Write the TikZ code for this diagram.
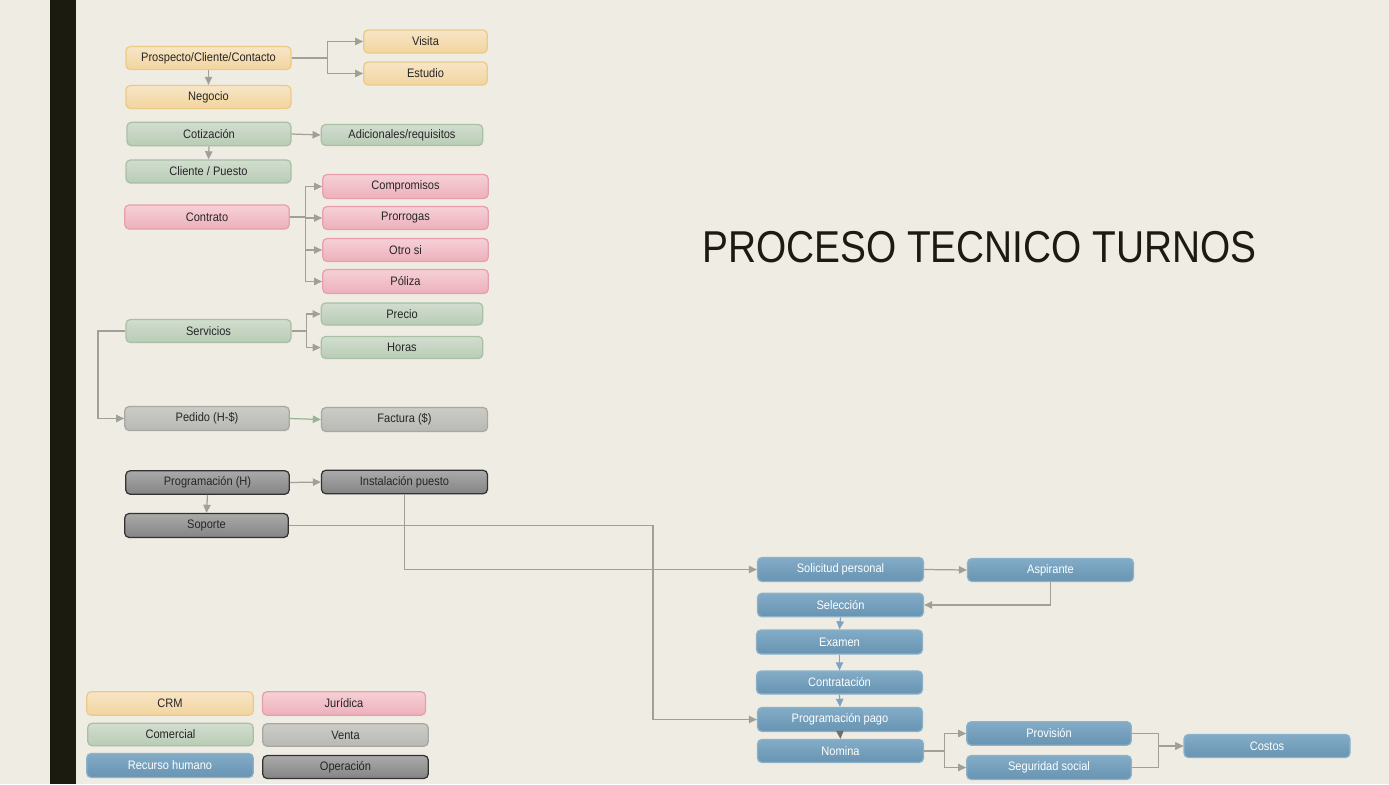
\documentclass[tikz,border=0pt]{standalone}
\usepackage{fontspec}
\setmainfont{Liberation Sans}[FakeStretch=0.9]
\newfontfamily\titlefont{Liberation Sans}[FakeStretch=0.87]
\usepackage{tikz}
\usetikzlibrary{arrows.meta}
\usetikzlibrary{positioning}

\definecolor{fondo}{RGB}{239,236,228}
\definecolor{barra}{RGB}{27,27,16}
\definecolor{linea}{RGB}{160,160,152}
\definecolor{lineaazul}{RGB}{125,165,195}
\definecolor{lineaverde}{RGB}{150,180,150}
\definecolor{crmarriba}{RGB}{247,229,198}
\definecolor{crmabajo}{RGB}{242,213,158}
\definecolor{crmborde}{RGB}{236,202,134}
\definecolor{comarriba}{RGB}{210,221,207}
\definecolor{comabajo}{RGB}{184,204,181}
\definecolor{comborde}{RGB}{168,192,164}
\definecolor{jurarriba}{RGB}{246,208,214}
\definecolor{jurabajo}{RGB}{236,176,188}
\definecolor{jurborde}{RGB}{232,158,172}
\definecolor{venarriba}{RGB}{204,204,199}
\definecolor{venabajo}{RGB}{184,184,180}
\definecolor{venborde}{RGB}{168,168,163}
\definecolor{operarriba}{RGB}{170,170,170}
\definecolor{operabajo}{RGB}{132,132,132}
\definecolor{operborde}{RGB}{50,50,50}
\definecolor{rhumarriba}{RGB}{130,171,198}
\definecolor{rhumabajo}{RGB}{104,148,178}
\definecolor{rhumborde}{RGB}{140,178,202}

\begin{document}
\begin{tikzpicture}[
  > = {Triangle[length=4.6pt,width=4.2pt]},
  caja/.style = {rounded corners=2.5pt, minimum width=3.3cm, minimum height=0.46cm, inner sep=0pt, line width=0.7pt, font=\fontsize{7}{8}\selectfont, text=black!85},
  crm/.style = {caja, draw=crmborde, top color=crmarriba, bottom color=crmabajo},
  com/.style = {caja, draw=comborde, top color=comarriba, bottom color=comabajo},
  jur/.style = {caja, draw=jurborde, top color=jurarriba, bottom color=jurabajo},
  ven/.style = {caja, draw=venborde, top color=venarriba, bottom color=venabajo},
  oper/.style = {caja, draw=operborde, top color=operarriba, bottom color=operabajo},
  rhum/.style = {caja, draw=rhumborde, top color=rhumarriba, bottom color=rhumabajo, text=white},
  flecha/.style = {->, draw=linea, line width=0.7pt}
  ]
	% fondo y barra
	\fill[fondo] (0,0) rectangle (27.78,-15.68);
	\useasboundingbox (0,0) rectangle (27.78,-15.68);
	\fill[barra] (1.0,0) rectangle (1.52,-15.68);

	\node[font=\titlefont\fontsize{25.4}{28}\selectfont, text=barra, anchor=base] (titulo) at (19.59,-5.24) {PROCESO TECNICO TURNOS};

	% CRM
	\node[crm] (prospecto) at (4.17,-1.16) {Prospecto/Cliente/Contacto};
	\node[crm] (negocio) at (4.17,-1.94) {Negocio};
	\node[crm, minimum width=2.47cm] (visita) at (8.51,-0.83) {Visita};
	\node[crm, minimum width=2.47cm] (estudio) at (8.51,-1.47) {Estudio};

	% Comercial
	\node[com, minimum width=3.28cm, minimum height=0.47cm] (cotizacion) at (4.18,-2.68) {Cotización};
	\node[com, minimum width=3.23cm, minimum height=0.42cm] (adicionales) at (8.04,-2.70) {Adicionales/requisitos};
	\node[com] (cliente) at (4.17,-3.43) {Cliente / Puesto};

	% Juridica
	\node[jur, minimum width=3.29cm, minimum height=0.48cm] (contrato) at (4.14,-4.34) {Contrato};
	\node[jur, minimum width=3.31cm, minimum height=0.48cm] (compromisos) at (8.11,-3.73) {Compromisos};
	\node[jur, minimum width=3.31cm] (prorrogas) at (8.11,-4.36) {Prorrogas};
	\node[jur, minimum width=3.31cm] (otro) at (8.11,-5.00) {Otro si};
	\node[jur, minimum width=3.31cm, minimum height=0.48cm] (poliza) at (8.11,-5.63) {Póliza};

	% Servicios
	\node[com] (servicios) at (4.17,-6.62) {Servicios};
	\node[com, minimum width=3.23cm, minimum height=0.44cm] (precio) at (8.04,-6.28) {Precio};
	\node[com, minimum width=3.23cm, minimum height=0.44cm] (horas) at (8.04,-6.95) {Horas};

	% Venta
	\node[ven, minimum width=3.29cm, minimum height=0.48cm] (pedido) at (4.14,-8.37) {Pedido (H-\$)};
	\node[ven, minimum width=3.32cm, minimum height=0.48cm] (factura) at (8.09,-8.39) {Factura (\$)};

	% Operacion
	\node[oper, minimum width=3.27cm, minimum height=0.47cm] (programacion) at (4.15,-9.65) {Programación (H)};
	\node[oper, minimum width=3.32cm, minimum height=0.47cm] (instalacion) at (8.09,-9.64) {Instalación puesto};
	\node[oper, minimum width=3.27cm, minimum height=0.48cm] (soporte) at (4.13,-10.51) {Soporte};

	% Recurso humano
	\node[rhum, minimum width=3.32cm, minimum height=0.48cm] (solicitud) at (16.81,-11.39) {Solicitud personal};
	\node[rhum, minimum width=3.32cm] (aspirante) at (21.01,-11.40) {Aspirante};
	\node[rhum, minimum width=3.32cm, minimum height=0.47cm] (seleccion) at (16.81,-12.10) {Selección};
	\node[rhum, minimum width=3.32cm, minimum height=0.48cm] (examen) at (16.79,-12.84) {Examen};
	\node[rhum, minimum width=3.32cm] (contratacion) at (16.79,-13.65) {Contratación};
	\node[rhum, minimum width=3.3cm, minimum height=0.48cm] (pago) at (16.80,-14.39) {Programación pago};
	\node[rhum, minimum width=3.32cm] (nomina) at (16.81,-15.02) {Nomina};
	\node[rhum, minimum width=3.29cm, minimum height=0.47cm] (provision) at (20.98,-14.67) {Provisión};
	\node[rhum, minimum width=3.29cm, minimum height=0.48cm] (seguridad) at (20.98,-15.35) {Seguridad social};
	\node[rhum, minimum width=3.32cm] (costos) at (25.34,-14.92) {Costos};

	% conectores
	\draw[flecha] (prospecto.east) -- ++(0.71,0) |- (visita.west);
	\draw[flecha] (prospecto.east) -- ++(0.71,0) |- (estudio.west);
	\draw[flecha] (prospecto.south) -- (negocio.north);
	\draw[flecha] (cotizacion.east) -- (adicionales.west);
	\draw[flecha] (cotizacion.south) -- (cliente.north);
	\foreach \n in {compromisos,prorrogas,otro,poliza}
		\draw[flecha] (contrato.east) -- ++(0.32,0) |- (\n.west);
	\foreach \n in {precio,horas}
		\draw[flecha] (servicios.east) -- ++(0.30,0) |- (\n.west);
	\draw[flecha] (servicios.west) -- ++(-0.55,0) |- (pedido.west);
	\draw[flecha, draw=lineaverde] (pedido.east) -- (factura.west);
	\draw[flecha] (programacion.east) -- (instalacion.west);
	\draw[flecha] (programacion.south) -- (soporte.north);
	\draw[flecha] (instalacion.south) |- (solicitud.west);
	\coordinate (s1) at (13.06,-12);
	\draw[flecha] (soporte.east) -| (s1) |- (pago.west);
	\draw[flecha] (solicitud.east) -- (aspirante.west);
	\draw[flecha] (aspirante.south) |- (seleccion.east);
	\draw[flecha, draw=lineaazul] (seleccion.south) -- (examen.north);
	\draw[flecha, draw=lineaazul] (examen.south) -- (contratacion.north);
	\draw[flecha, draw=lineaazul] (contratacion.south) -- (pago.north);
	\draw[flecha, draw=linea!70!black] (pago.south) -- (nomina.north);
	\foreach \n in {provision,seguridad}
		\draw[flecha] (nomina.east) -- ++(0.41,0) |- (\n.west);
	\foreach \n in {provision,seguridad}
		\draw[flecha] (\n.east) -- ++(0.53,0) |- (costos.west);

	% leyenda
	\node[crm, minimum width=3.33cm, minimum height=0.47cm] (lcrm) at (3.40,-14.07) {CRM};
	\node[jur, minimum width=3.26cm, minimum height=0.47cm] (ljur) at (6.88,-14.07) {Jurídica};
	\node[com, minimum width=3.31cm, minimum height=0.45cm] (lcom) at (3.41,-14.69) {Comercial};
	\node[ven, minimum width=3.31cm, minimum height=0.45cm] (lven) at (6.91,-14.70) {Venta};
	\node[rhum, minimum width=3.33cm, minimum height=0.48cm] (lrhum) at (3.40,-15.31) {Recurso humano};
	\node[oper, minimum width=3.31cm, minimum height=0.46cm] (loper) at (6.91,-15.34) {Operación};
\end{tikzpicture}
\end{document}
